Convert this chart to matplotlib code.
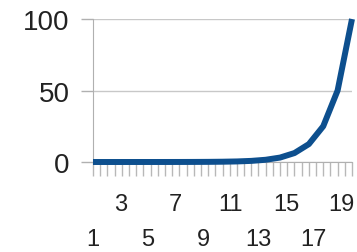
import matplotlib
matplotlib.use("Agg")
import matplotlib.pyplot as plt
import matplotlib.transforms as mtransforms
import numpy as np

plt.rcParams['font.family'] = ['Liberation Sans', 'DejaVu Sans']

x_values = [1, 2, 3, 4, 5, 6, 7, 8, 9, 10, 11, 12, 13, 14, 15, 16, 17, 18, 19]
y_values = [0.0004, 0.0008, 0.0015, 0.003, 0.006, 0.012, 0.024, 0.05, 0.1, 0.2,
            0.39, 0.78, 1.56, 3.1, 6.25, 12.5, 25, 50, 100]
x_tick_labels = ["1", "3", "5", "7", "9", "11", "13", "15", "17", "19"]
y_ticks = [0, 50, 100]

fig = plt.figure(figsize=(3.57, 2.53), dpi=100)
ax = fig.add_axes([93/357, 1-163/253, (352-93)/357, (163-20)/253])

ax.plot(x_values, y_values, color='#0d4f8e', lw=4.3, solid_capstyle='butt',
        solid_joinstyle='round', zorder=5, clip_on=False)

ax.set_ylim(0, 100)
ax.set_xlim(1, 19)
ax.set_yticks(y_ticks)
ax.set_yticklabels([str(v) for v in y_ticks])
ax.tick_params(axis='y', length=9, width=1, color='#b0b0b0', labelsize=20, pad=8, labelcolor='#222222')
ax.yaxis.grid(True, color='#c8c8c8', lw=1)
ax.set_axisbelow(True)

tick_pos = [int(t) for t in x_tick_labels]
ax.set_xticks(tick_pos)
ax.set_xticklabels(x_tick_labels)
ax.tick_params(axis='x', which='major', length=10, width=1, color='#b8b8b8',
               labelsize=17, labelcolor='#222222')
for i, tk in enumerate(ax.xaxis.get_major_ticks()):
    tk.set_pad(12.5 if i % 2 == 1 else 37.5)
for lab, p in zip(ax.get_xticklabels(), tick_pos):
    lab.set_transform(lab.get_transform() +
                      mtransforms.ScaledTranslation(-0.6 * (p - 1) / 100, 0, fig.dpi_scale_trans))
ax.set_xticks(np.arange(1, 19.01, 0.5), minor=True)
ax.tick_params(axis='x', which='minor', length=10, width=1, color='#b8b8b8')

for s in ['top', 'right']:
    ax.spines[s].set_visible(False)
ax.spines['left'].set_color('#b0b0b0')
ax.spines['bottom'].set_color('#b0b0b0')

fig.savefig('out.png', dpi=100)
